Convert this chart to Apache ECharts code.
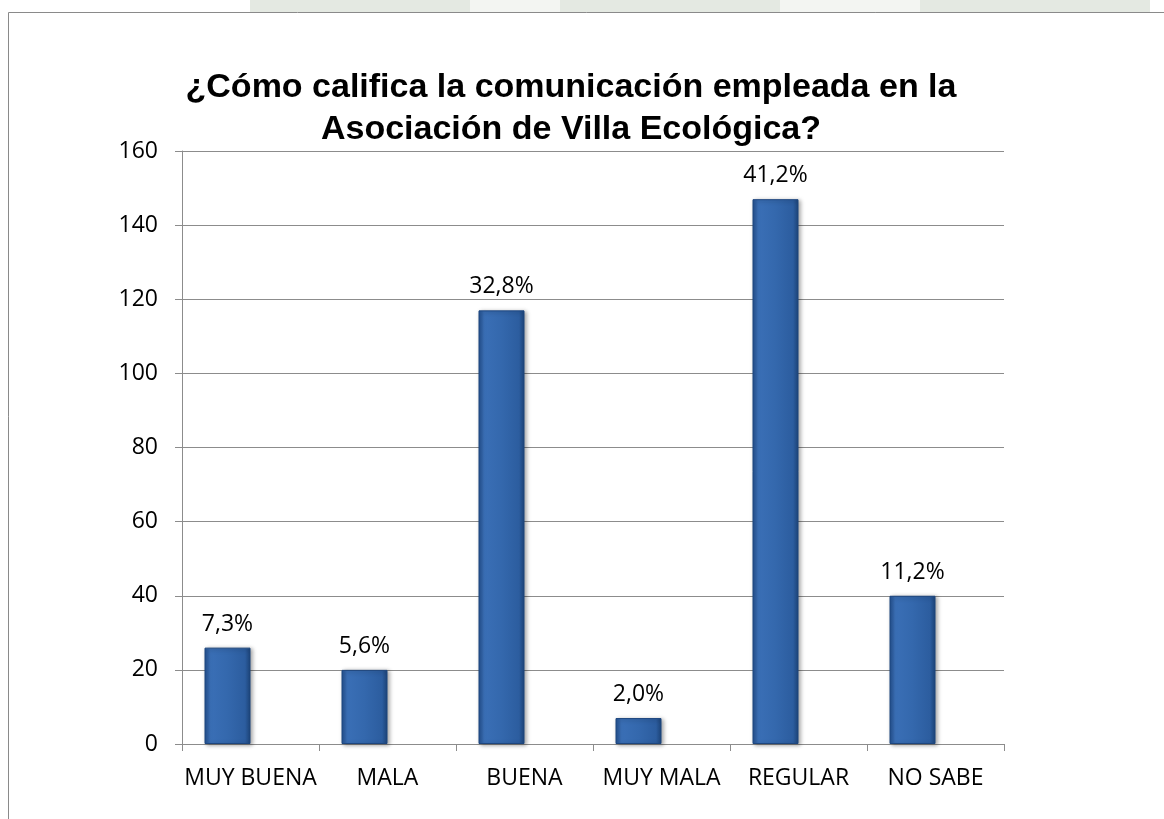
<!DOCTYPE html>
<html>
<head>
<meta charset="utf-8">
<script src="https://cdn.jsdelivr.net/npm/echarts@6/dist/echarts.min.js"></script>
<style>
  html, body { margin: 0; padding: 0; background: #fff; }
  #chart { width: 1164px; height: 819px; }
</style>
</head>
<body>
<div id="chart"></div>
<script>
var categories = ['MUY BUENA', 'MALA', 'BUENA', 'MUY MALA', 'REGULAR', 'NO SABE'];
var counts = [26, 20, 117, 7, 147, 40];
var percents = ['7,3%', '5,6%', '32,8%', '2,0%', '41,2%', '11,2%'];

var chart = echarts.init(document.getElementById('chart'));

var barColor = new echarts.graphic.LinearGradient(0, 0, 1, 0, [
  { offset: 0, color: '#23508f' },
  { offset: 0.12, color: '#3a6fb6' },
  { offset: 0.5, color: '#3468ad' },
  { offset: 0.88, color: '#2c5d9f' },
  { offset: 1, color: '#1d4479' }
]);

var option = {
  backgroundColor: '#ffffff',
  animation: false,
  graphic: [
    // faded page background showing above the chart frame
    { type: 'rect', shape: { x: 250, y: 0, width: 900, height: 12 }, style: { fill: '#e4e9e2' }, silent: true },
    { type: 'rect', shape: { x: 470, y: 0, width: 90, height: 12 }, style: { fill: '#f3f5f2' }, silent: true },
    { type: 'rect', shape: { x: 780, y: 0, width: 140, height: 12 }, style: { fill: '#f3f5f2' }, silent: true },
    {
      type: 'rect',
      shape: { x: 8.5, y: 12.5, width: 1170, height: 820 },
      style: { fill: '#fff', stroke: '#8a8a8a', lineWidth: 1 },
      z: -1
    }
  ],
  title: {
    text: '¿Cómo califica la comunicación empleada en la\nAsociación de Villa Ecológica?',
    left: 566,
    top: 62,
    textAlign: 'center',
    textStyle: {
      fontFamily: 'Liberation Sans, Arial, sans-serif',
      fontWeight: 'bold',
      fontSize: 34,
      lineHeight: 42,
      color: '#000'
    }
  },
  grid: { left: 182, right: 160, top: 151, bottom: 75, containLabel: false },
  xAxis: {
    type: 'category',
    data: categories,
    axisLine: { lineStyle: { color: '#8c8c8c', width: 1 } },
    axisTick: { show: true, length: 7, lineStyle: { color: '#8c8c8c' } },
    axisLabel: {
      color: '#000',
      fontFamily: 'Open Sans, Noto Sans, sans-serif',
      fontSize: 23,
      margin: 23,
      interval: 0
    }
  },
  yAxis: {
    type: 'value',
    min: 0,
    max: 160,
    interval: 20,
    axisLine: { show: true, lineStyle: { color: '#8c8c8c', width: 1 } },
    axisTick: { show: true, length: 7, lineStyle: { color: '#8c8c8c' } },
    splitLine: { lineStyle: { color: '#8c8c8c', width: 1 } },
    axisLabel: {
      color: '#000',
      fontFamily: 'Open Sans, Noto Sans, sans-serif',
      fontSize: 23,
      margin: 24
    }
  },
  series: [
    {
      name: 'Frecuencia',
      type: 'bar',
      data: counts,
      barWidth: 46,
      barGap: '0%',
      itemStyle: {
        color: barColor,
        borderColor: '#1d467f',
        borderWidth: 1,
        shadowColor: 'rgba(0,0,0,0.35)',
        shadowBlur: 4,
        shadowOffsetX: 2,
        shadowOffsetY: 1
      },
      label: {
        show: true,
        position: 'top',
        distance: 12,
        color: '#000',
        fontFamily: 'Open Sans, Noto Sans, sans-serif',
        fontSize: 23,
        formatter: function (p) { return percents[p.dataIndex]; }
      }
    },
    {
      name: 'vacío',
      type: 'bar',
      data: ['-', '-', '-', '-', '-', '-'],
      barWidth: 46
    }
  ]
};

chart.setOption(option);
</script>
</body>
</html>
